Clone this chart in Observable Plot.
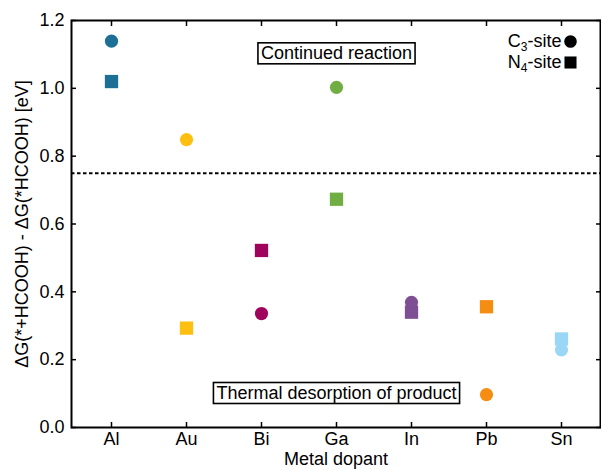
<!DOCTYPE html>
<html><head><meta charset="utf-8">
<script src="https://cdn.jsdelivr.net/npm/d3@7"></script>
<script src="https://cdn.jsdelivr.net/npm/@observablehq/plot@0.6"></script>
<style>body{margin:0;background:#fff;} svg{display:block}</style>
</head><body><div id="chart"></div>
<script>
const metals = ["Al", "Au", "Bi", "Ga", "In", "Pb", "Sn"];
const c3Values = [1.139, 0.849, 0.336, 1.003, 0.369, 0.097, 0.229];
const n4Values = [1.020, 0.293, 0.522, 0.673, 0.340, 0.356, 0.261];
const metalColors = ["#1d6f96", "#fdc010", "#a0035b", "#70ae44", "#7e4f92", "#f58d12", "#9ad7f6"];
const yTicks = [0, 0.2, 0.4, 0.6, 0.8, 1.0, 1.2];
const threshold = [0.75];
const annotationTexts = ["Continued reaction", "Thermal desorption of product"];
const annotationY = [1.104, 0.1025];
const yLabel = "ΔG(*+HCOOH) - ΔG(*HCOOH) [eV]";
const xLabel = "Metal dopant";

const c3 = metals.map((m, i) => ({metal: m, value: c3Values[i], color: metalColors[i]}));
const n4 = metals.map((m, i) => ({metal: m, value: n4Values[i], color: metalColors[i]}));
const notes = annotationTexts.map((t, i) => ({text: t, metal: "Ga", y: annotationY[i]}));

const FS = 18;
const chart = Plot.plot({
  width: 601, height: 470,
  marginLeft: 71, marginRight: 1, marginTop: 20, marginBottom: 43,
  style: {fontFamily: "'Liberation Sans', Arial, sans-serif", fontSize: FS + "px", background: "#fff", color: "#000"},
  x: {type: "point", domain: metals, padding: 0.5},
  y: {domain: [0, 1.2]},
  color: {type: "identity"},
  marks: [
    Plot.ruleY(threshold, {strokeDasharray: "3.5,2.5", strokeWidth: 2, stroke: "#000"}),
    Plot.dot(n4, {x: "metal", y: "value", symbol: "square", r: 7.5, fill: "color"}),
    Plot.dot(c3, {x: "metal", y: "value", symbol: "circle", r: 6.6, fill: "color"}),
    Plot.text(notes, {x: "metal", y: "y", text: "text", fontSize: FS, fill: "#000"}),
    Plot.frame({stroke: "#000", strokeWidth: 2}),
    Plot.axisX({anchor: "bottom", tickSize: -5, fill: "none", strokeWidth: 1.5, label: null}),
    Plot.axisX({anchor: "top", tickSize: -5, fill: "none", strokeWidth: 1.5, label: null}),
    Plot.axisX({anchor: "bottom", tickSize: 0, tickPadding: 5, fontSize: FS, label: null}),
    Plot.axisY({anchor: "left", ticks: yTicks, tickSize: -5, fill: "none", strokeWidth: 1.5, label: null}),
    Plot.axisY({anchor: "right", ticks: yTicks, tickSize: -5, fill: "none", strokeWidth: 1.5, label: null}),
    Plot.axisY({anchor: "left", ticks: yTicks, tickSize: 0, tickPadding: 7, tickFormat: d3.format(".1f"), fontSize: FS, label: null}),
    Plot.text([yLabel], {frameAnchor: "left", dx: -49, rotate: -90, textAnchor: "middle", lineAnchor: "middle", fontSize: FS, fill: "#000"}),
    Plot.text([xLabel], {frameAnchor: "bottom", dy: 32, textAnchor: "middle", lineAnchor: "middle", fontSize: FS, fill: "#000"}),
    Plot.text(["C3-site"], {frameAnchor: "top-right", dx: -39, dy: 21, textAnchor: "end", lineAnchor: "middle", fontSize: FS, fill: "#000"}),
    Plot.text(["N4-site"], {frameAnchor: "top-right", dx: -39, dy: 42, textAnchor: "end", lineAnchor: "middle", fontSize: FS, fill: "#000"}),
    Plot.dot([0], {frameAnchor: "top-right", dx: -30, dy: 21, r: 6.3, fill: "#000", symbol: "circle"}),
    Plot.dot([0], {frameAnchor: "top-right", dx: -30, dy: 42, r: 6.8, fill: "#000", symbol: "square"})
  ]
});
document.getElementById("chart").appendChild(chart);

// subscripts in legend
chart.querySelectorAll("text").forEach(t => {
  const s = t.textContent;
  if (s === "C3-site" || s === "N4-site") {
    t.innerHTML = `${s[0]}<tspan dy="4" font-size="12">${s[1]}</tspan><tspan dy="-4">${s.slice(2)}</tspan>`;
  }
});
// boxes around annotations
const ns = "http://www.w3.org/2000/svg";
chart.querySelectorAll("text").forEach(t => {
  if (annotationTexts.includes(t.textContent)) {
    const b = t.getBBox();
    const r = document.createElementNS(ns, "rect");
    r.setAttribute("x", b.x - 3);
    r.setAttribute("y", b.y);
    r.setAttribute("width", b.width + 6);
    r.setAttribute("height", b.height + 1);
    r.setAttribute("fill", "#fff");
    r.setAttribute("stroke", "#000");
    r.setAttribute("stroke-width", 1.6);
    if (t.getAttribute("transform")) r.setAttribute("transform", t.getAttribute("transform"));
    t.parentNode.insertBefore(r, t);
  }
});
</script></body></html>
